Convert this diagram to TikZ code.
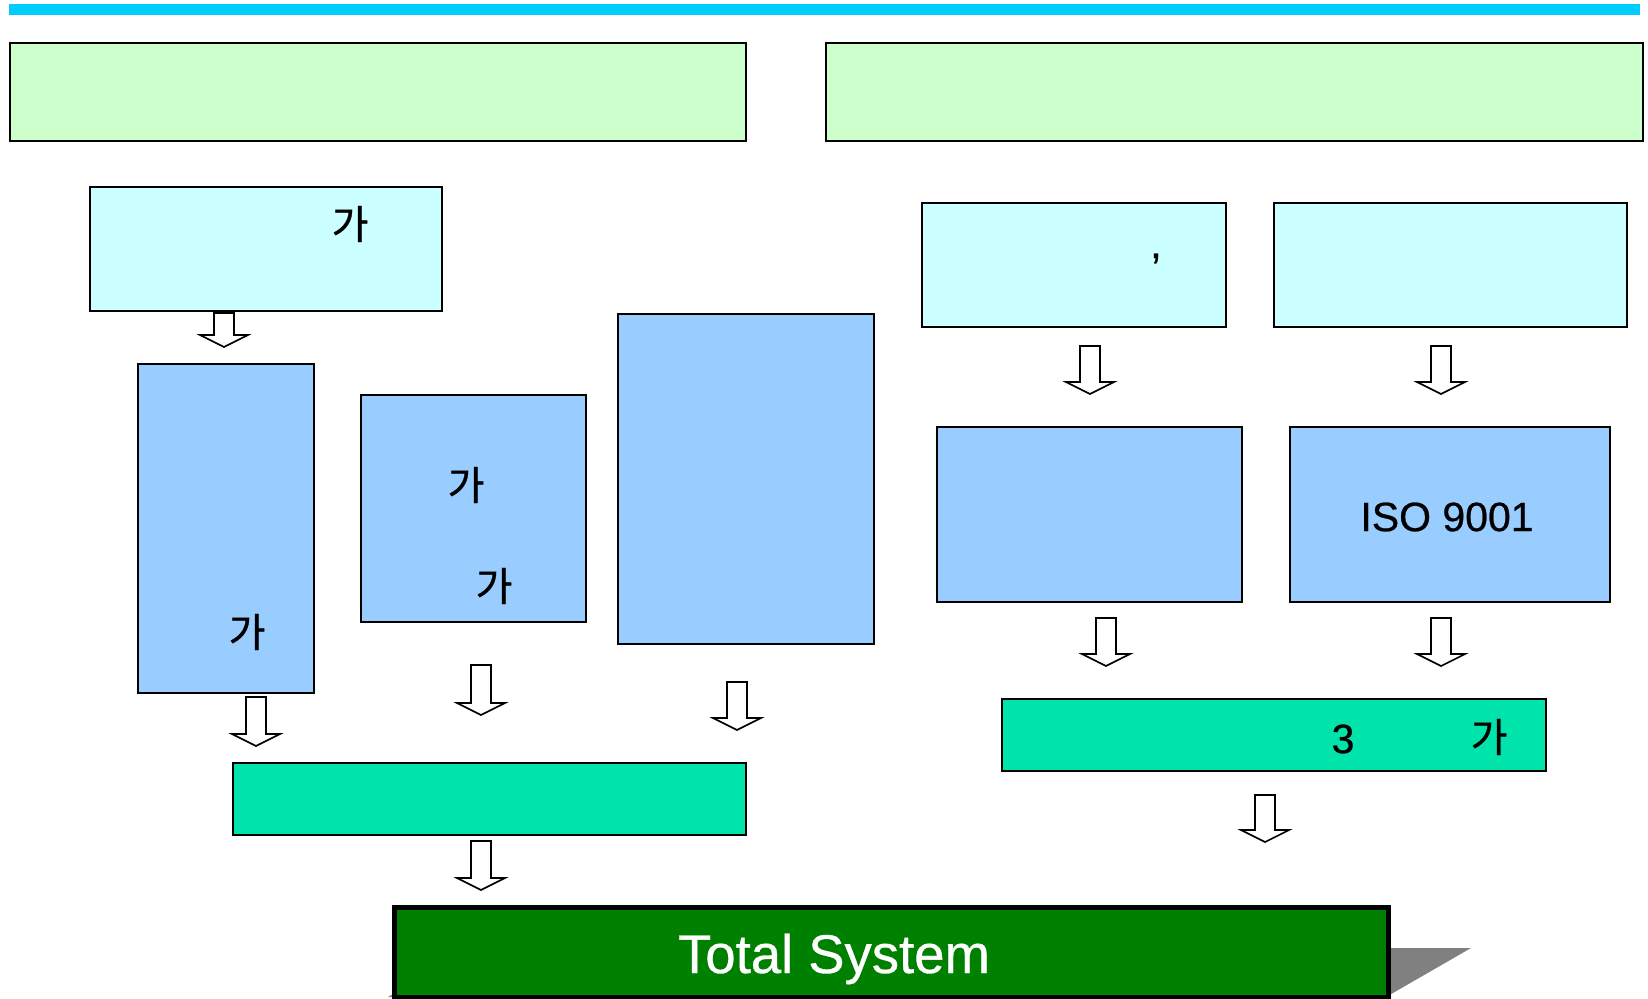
\documentclass[tikz,border=0pt]{standalone}
\usepackage{fontspec}
\setmainfont{Liberation Sans}
\newfontfamily\krfont{Noto Sans CJK KR}[FakeBold=0.8]
\newfontfamily\latfont{Liberation Sans}[FakeBold=0.6]
\usepackage{tikz}
\usetikzlibrary{calc, positioning}

\definecolor{skyline}{RGB}{0,204,255}
\definecolor{mintgreen}{RGB}{204,255,204}
\definecolor{palecyan}{RGB}{204,255,255}
\definecolor{softblue}{RGB}{153,204,255}
\definecolor{seagreen}{RGB}{0,227,170}
\definecolor{darkgreen}{RGB}{0,128,0}

\begin{document}
\begin{tikzpicture}[x=1pt, y=-1pt,
    headbox/.style={rectangle, draw=black, line width=2pt, fill=mintgreen, anchor=north west, inner sep=0pt},
    cyanbox/.style={rectangle, draw=black, line width=2pt, fill=palecyan, anchor=north west, inner sep=0pt},
    bluebox/.style={rectangle, draw=black, line width=2pt, fill=softblue, anchor=north west, inner sep=0pt},
    sumbox/.style={rectangle, draw=black, line width=2pt, fill=seagreen, anchor=north west, inner sep=0pt},
    totalbox/.style={rectangle, draw=black, line width=5pt, fill=darkgreen, anchor=north west, inner sep=0pt},
    krtext/.style={inner sep=0pt, font=\krfont\fontsize{40}{48}\selectfont},
    lattext/.style={inner sep=0pt, font=\latfont\fontsize{41}{49}\selectfont},
    blockarr/.pic={
      \draw[line width=1.6pt, fill=white] (-10,0) -- (10,0) -- (10,#1-12) -- (24,#1-12)
        -- (0,#1) -- (-24,#1-12) -- (-10,#1-12) -- cycle;
    },
    ]
    \useasboundingbox (0,0) rectangle (1648,998);
    \fill[skyline] (9,4) rectangle (1640,15);

    %Nodes
    \node[headbox, minimum width=736pt, minimum height=98pt]  (headleft)  at (9,42)    {};
    \node[headbox, minimum width=817pt, minimum height=98pt]  (headright) at (825,42)  {};
    \node[cyanbox, minimum width=352pt, minimum height=124pt] (planleft)  at (89,186)  {};
    \node[bluebox, minimum width=176pt, minimum height=329pt] (stepa)     at (137,363) {};
    \node[bluebox, minimum width=225pt, minimum height=227pt] (stepb)     at (360,394) {};
    \node[bluebox, minimum width=256pt, minimum height=330pt] (stepc)     at (617,313) {};
    \node[sumbox,  minimum width=513pt, minimum height=72pt]  (sumleft)   at (232,762) {};
    \node[cyanbox, minimum width=304pt, minimum height=124pt] (planmid)   at (921,202) {};
    \node[cyanbox, minimum width=353pt, minimum height=124pt] (planright) at (1273,202) {};
    \node[bluebox, minimum width=305pt, minimum height=175pt] (stepd)     at (936,426) {};
    \node[bluebox, minimum width=320pt, minimum height=175pt] (stepiso)   at (1289,426) {};
    \node[sumbox,  minimum width=544pt, minimum height=72pt]  (sumright)  at (1001,698) {};

    %Shadow and total
    \fill[gray] (388,997) -- (1386,997) -- (1471,948) -- (473,948) -- cycle;
    \node[totalbox, minimum width=994pt, minimum height=90pt] (total) at (392,905) {};

    %Texts
    \node[krtext] (ga1) at (350,224) {가};
    \node[krtext] (ga2) at (247,632) {가};
    \node[krtext] (ga3) at (466,485) {가};
    \node[krtext] (ga4) at (494,586) {가};
    \node[lattext, anchor=base] (comma) at (1156,258) {,};
    \node[lattext] (iso) at (1447,517) {ISO 9001};
    \node[lattext] (three) at (1343,739) {3};
    \node[krtext] (ga5) at (1489,737) {가};
    \node[inner sep=0pt, anchor=base, text=white, font=\latfont\fontsize{54.5}{62}\selectfont] (totaltext) at (834,973) {Total System};

    %Arrows
    \pic at (224,313) {blockarr=34};
    \pic at (256,697) {blockarr=49};
    \pic at (481,665) {blockarr=50};
    \pic at (737,682) {blockarr=48};
    \pic at (481,841) {blockarr=49};
    \pic at (1090,346) {blockarr=48};
    \pic at (1441,346) {blockarr=48};
    \pic at (1106,618) {blockarr=48};
    \pic at (1441,618) {blockarr=48};
    \pic at (1265,795) {blockarr=47};
\end{tikzpicture}
\end{document}
